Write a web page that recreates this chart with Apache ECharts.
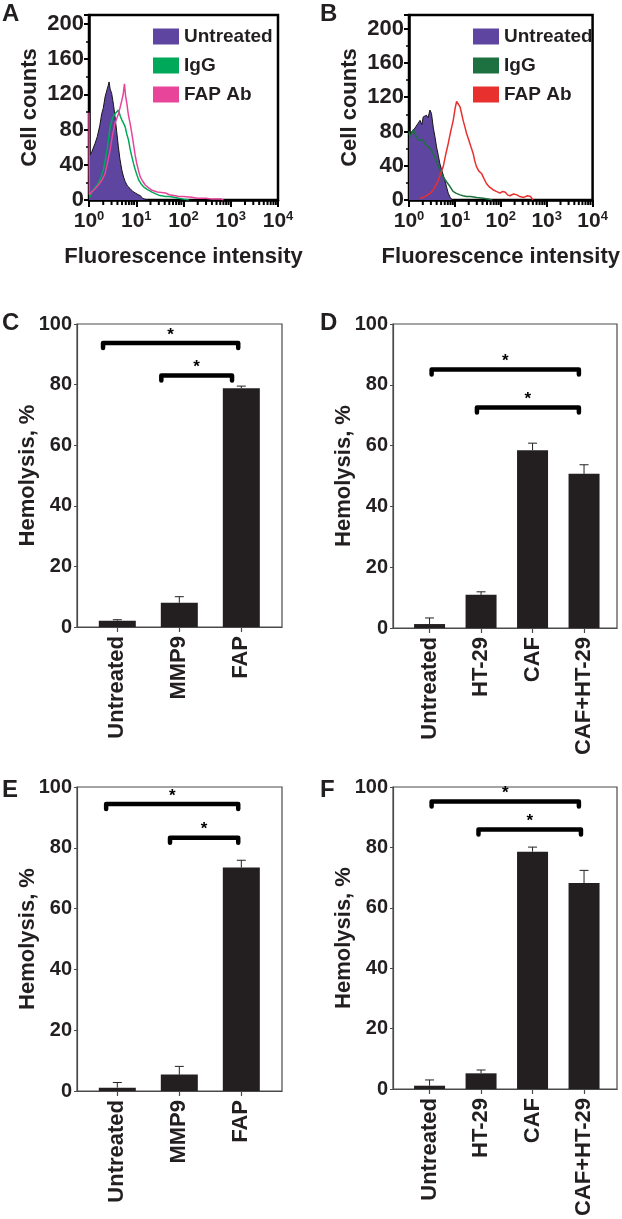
<!DOCTYPE html>
<html>
<head>
<meta charset="utf-8">
<script src="https://cdn.jsdelivr.net/npm/echarts@6/dist/echarts.min.js"></script>
<style>
html,body{margin:0;padding:0;background:#fff;}
#chart{width:622px;height:1219px;}
</style>
</head>
<body>
<div id="chart"></div>
<script>
// ---------- A / B : flow cytometry histograms, [intensity, cell count] ----------
const aUntreated = [[1,49],[1.05,47],[1.15,55],[1.34,64],[1.5,72],[1.7,85],[1.86,98],[2.0,104],[2.19,117],[2.4,125],[2.55,130],[2.66,134],[2.8,126],[3.02,121],[3.3,108],[3.55,95],[3.85,78],[4.17,61],[4.5,47],[4.95,34],[5.4,26],[5.83,21],[6.5,16],[7.41,13],[8.3,10],[9.55,8],[11,6],[12.2,5],[13.5,2],[15,1],[18,0]];
const aIgG = [[1.05,3],[1.14,9],[1.3,13],[1.58,19],[1.8,26],[2.02,34],[2.2,45],[2.42,57],[2.6,70],[2.8,83],[3.1,92],[3.55,98],[3.9,100],[4.21,102],[4.6,95],[4.95,91],[5.4,87],[5.83,83],[6.3,75],[6.87,68],[7.4,58],[8.09,49],[8.8,41],[9.55,34],[10.4,28],[11.2,23],[12.8,18],[14.3,15],[17,12],[21.5,9],[26,7],[31.6,5],[41.7,4],[50,4],[63,3],[79,2],[100,1],[130,0]];
const aFAP = [[1,99],[1.02,6],[1.14,9],[1.3,12],[1.58,17],[1.9,23],[2.19,30],[2.5,44],[2.8,57],[3.1,72],[3.55,87],[3.9,93],[4.21,98],[4.6,106],[4.95,113],[5.3,120],[5.62,132],[5.95,118],[6.31,110],[6.8,97],[7.41,87],[8.09,75],[8.71,64],[9.4,52],[10.2,42],[11.2,33],[12.2,26],[13.8,21],[15.5,17],[18,14],[21.5,11],[28,9],[41.7,8],[50,6],[63,5],[79,4],[100,4],[150,3],[200,2],[300,2],[398,1],[631,1],[700,0]];

const bUntreated = [[1,74],[1.05,74],[1.15,80],[1.24,78],[1.35,84],[1.47,86],[1.6,90],[1.74,93],[1.9,88],[2.04,97],[2.2,95],[2.4,99],[2.6,96],[2.86,105],[3.09,101],[3.39,84],[3.7,73],[3.98,62],[4.35,52],[4.68,43],[5.3,33],[6.03,23],[6.6,15],[7.16,8],[8.05,2],[9.12,0]];
const bIgG = [[1,80],[1.05,74],[1.15,78],[1.24,82],[1.35,77],[1.47,74],[1.6,70],[1.74,68],[2.04,70],[2.2,66],[2.4,66],[2.6,62],[2.86,64],[3.1,58],[3.39,54],[3.98,45],[4.68,35],[5.57,27],[6.61,21],[7.76,16],[9.12,10],[10.5,8],[12.9,6],[15,5],[17.8,4],[22,4],[30,3],[41.7,2],[56,1],[65,0]];
const bFAP = [[1.74,2],[2.0,3],[2.4,5],[2.9,8],[3.39,12],[3.9,18],[4.35,23],[4.9,31],[5.57,39],[6.3,53],[7.16,66],[8.1,80],[9.2,93],[10.1,107],[10.9,115],[11.7,113],[12.9,109],[14,101],[15.1,93],[16.4,86],[17.9,78],[19.5,72],[21.2,66],[23,60],[25.1,54],[27,46],[29.5,39],[33,34],[38,31],[43,25],[49,19],[57,15],[67.6,12],[80,10],[95.5,8],[110,10],[126,9],[140,6],[158,5],[190,7],[224,6],[260,4],[316,3],[380,5],[447,4],[501,0]];

const fluorTicks = [1, 10, 100, 1000, 10000];
const fluorTickExp = ['0', '1', '2', '3', '4'];

// ---------- C-F : hemolysis bars ----------
const catsMMP = ['Untreated', 'MMP9', 'FAP'];
const catsCAF = ['Untreated', 'HT-29', 'CAF', 'CAF+HT-29'];

const hemoC = [2.1, 8.0, 78.8];
const errC = [0.3, 2.0, 0.7];
const hemoD = [1.3, 10.9, 58.5, 50.7];
const errD = [2.0, 1.0, 2.3, 3.0];
const hemoE = [1.1, 5.4, 73.5];
const errE = [1.7, 2.7, 2.4];
const hemoF = [1.1, 5.2, 78.6, 68.2];
const errF = [1.9, 1.1, 1.5, 4.2];

// significance brackets: [from category, to category, height %]
const sigC = [[0.77, 2.95, 93.7], [1.71, 2.85, 83]];
const sigD = [[1.04, 3.9, 85], [1.92, 3.9, 72.5]];
const sigE = [[0.82, 2.95, 94.4], [1.85, 2.95, 83.3]];
const sigF = [[1.04, 3.9, 95.2], [1.95, 3.94, 85.9]];

const FONT = "'Liberation Sans', Arial, Helvetica, sans-serif";
const INK = '#231f20';
const FRAME = '#4a4a4a';
const purple = '#5d45a0';

const chart = echarts.init(document.getElementById('chart'));

// log minor ticks 2..9 per decade
const minorTickVals = [];
for (let d = 1; d < 10000; d *= 10) {
  for (let m = 2; m <= 9; m++) minorTickVals.push([m * d, 0]);
}

const boldText = (size) => ({fontFamily: FONT, fontWeight: 'bold', fontSize: size, color: INK});

function logAxis(gi) {
  return {
    type: 'log', logBase: 10, gridIndex: gi, min: 1, max: 10000,
    name: 'Fluorescence intensity', nameLocation: 'middle', nameGap: 46,
    nameTextStyle: boldText(22),
    axisLine: {lineStyle: {color: '#000', width: 2.5}},
    axisTick: {length: 7, lineStyle: {color: '#000', width: 2}},
    splitLine: {show: false},
    axisLabel: {
      margin: 10,
      formatter: v => {
        let i = fluorTicks.findIndex(t => Math.abs(Math.log10(t) - Math.log10(v)) < 0.01);
        return '{b|10}{s|' + fluorTickExp[i] + '}';
      },
      rich: {
        b: {fontFamily: FONT, fontWeight: 'bold', fontSize: 21, color: INK, verticalAlign: 'bottom'},
        s: {fontFamily: FONT, fontWeight: 'bold', fontSize: 13, color: INK, verticalAlign: 'bottom', padding: [0, 0, 9, 0]}
      }
    }
  };
}

function countAxis(gi, max) {
  return {
    type: 'value', gridIndex: gi, min: 0, max: max, interval: 40,
    name: 'Cell counts', nameLocation: 'middle', nameGap: 48, nameMoveOverlap: false,
    nameTextStyle: boldText(22),
    axisLine: {show: true, lineStyle: {color: '#000', width: 2.5}},
    axisTick: {show: true, length: 5, lineStyle: {color: '#000', width: 2}},
    minorTick: {show: true, splitNumber: 2, length: 3, lineStyle: {color: '#000', width: 1.5}},
    splitLine: {show: false},
    axisLabel: Object.assign({margin: 5, showMaxLabel: false}, boldText(22))
  };
}

function catAxis(gi, cats, min, max) {
  const pos = cats.map((c, i) => i + 1);
  return {
    type: 'value', gridIndex: gi, min: min, max: max,
    axisLine: {lineStyle: {color: FRAME, width: 1.2}},
    axisTick: {customValues: pos, length: 5, lineStyle: {color: FRAME, width: 1.2}},
    splitLine: {show: false},
    axisLabel: Object.assign({
      customValues: pos, rotate: 90, margin: 9,
      formatter: v => cats[Math.round(v) - 1]
    }, boldText(22))
  };
}

function hemoAxis(gi) {
  return {
    type: 'value', gridIndex: gi, min: 0, max: 100, interval: 20,
    name: 'Hemolysis, %', nameLocation: 'middle', nameGap: 38, nameMoveOverlap: false,
    nameTextStyle: boldText(22),
    axisLine: {show: true, lineStyle: {color: FRAME, width: 1.2}},
    axisTick: {show: true, length: 3, lineStyle: {color: FRAME, width: 1}},
    splitLine: {show: false},
    axisLabel: Object.assign({margin: 5}, boldText(20))
  };
}

function histLine(name, data, ai, color, filled) {
  const s = {
    type: 'line', name: name, data: data, xAxisIndex: ai, yAxisIndex: ai,
    showSymbol: false, silent: true, animation: false,
    lineStyle: {color: filled ? '#151515' : color, width: filled ? 1 : 1.5},
    itemStyle: {color: color}
  };
  if (filled) s.areaStyle = {color: color, opacity: 1};
  return s;
}

function minorTicks(ai) {
  return {
    type: 'custom', xAxisIndex: ai, yAxisIndex: ai, data: minorTickVals,
    encode: {x: 0, y: 1}, clip: false, silent: true, animation: false,
    renderItem: (params, api) => {
      const p = api.coord([api.value(0), 0]);
      return {type: 'line', shape: {x1: p[0], y1: p[1], x2: p[0], y2: p[1] + 5},
        style: {stroke: '#000', lineWidth: 2}};
    }
  };
}

function barSeries(ai, vals, width) {
  return {
    type: 'bar', xAxisIndex: ai, yAxisIndex: ai, barWidth: width,
    data: vals.map((v, i) => [i + 1, v]),
    itemStyle: {color: INK}, silent: true, animation: false
  };
}

function errSeries(ai, vals, errs) {
  return {
    type: 'custom', xAxisIndex: ai, yAxisIndex: ai, silent: true, animation: false,
    data: vals.map((v, i) => [i + 1, v, errs[i]]),
    encode: {x: 0, y: 1}, z: 3,
    renderItem: (params, api) => {
      const x = api.value(0), v = api.value(1), e = api.value(2);
      const a = api.coord([x, v]), b = api.coord([x, v + e]);
      return {type: 'group', children: [
        {type: 'line', shape: {x1: a[0], y1: a[1], x2: b[0], y2: b[1]}, style: {stroke: '#222', lineWidth: 1}},
        {type: 'line', shape: {x1: b[0] - 4.5, y1: b[1], x2: b[0] + 4.5, y2: b[1]}, style: {stroke: '#222', lineWidth: 1}}
      ]};
    }
  };
}

function sigSeries(ai, brackets) {
  return {
    type: 'custom', xAxisIndex: ai, yAxisIndex: ai, silent: true, animation: false,
    data: brackets, encode: {x: [0, 1], y: 2}, clip: false, z: 4,
    renderItem: (params, api) => {
      const a = api.coord([api.value(0), api.value(2)]);
      const b = api.coord([api.value(1), api.value(2)]);
      return {type: 'group', children: [
        {type: 'polyline',
          shape: {points: [[a[0], a[1] + 5], [a[0], a[1]], [b[0], b[1]], [b[0], b[1] + 5]]},
          style: {stroke: '#000', lineWidth: 4.5, fill: null, lineJoin: 'round', lineCap: 'round'}},
        {type: 'text', style: {text: '*', x: (a[0] + b[0]) / 2, y: a[1] - 8,
          align: 'center', verticalAlign: 'middle', fontFamily: FONT, fontWeight: 'bold',
          fontSize: 17, fill: '#000'}}
      ]};
    }
  };
}

const histFrame = {show: true, borderColor: '#000', borderWidth: 2.5, backgroundColor: 'transparent'};
const barFrame = {show: true, borderColor: FRAME, borderWidth: 1.2, backgroundColor: 'transparent'};

const legendBase = {
  orient: 'vertical', icon: 'rect', itemWidth: 26, itemHeight: 16, itemGap: 10,
  selectedMode: false, textStyle: boldText(19)
};

const letters = ['A', 'B', 'C', 'D', 'E', 'F'];
const letterPos = [[2, 2], [320, 2], [2, 311], [320, 311], [2, 778], [320, 778]];

const option = {
  backgroundColor: '#fff',
  animation: false,
  title: letters.map((t, i) => ({
    text: t, left: letterPos[i][0], top: letterPos[i][1], padding: 0,
    textStyle: boldText(24)
  })),
  grid: [
    Object.assign({left: 89, top: 15, width: 189, height: 185}, histFrame),
    Object.assign({left: 409, top: 15, width: 185, height: 185}, histFrame),
    Object.assign({left: 77, top: 324, width: 205, height: 303}, barFrame),
    Object.assign({left: 393, top: 324, width: 224, height: 304}, barFrame),
    Object.assign({left: 77, top: 787, width: 205, height: 304}, barFrame),
    Object.assign({left: 393, top: 787, width: 224, height: 304}, barFrame)
  ],
  xAxis: [
    logAxis(0), logAxis(1),
    catAxis(2, catsMMP, 0.35, 3.656),
    catAxis(3, catsCAF, 0.29, 4.64),
    catAxis(4, catsMMP, 0.35, 3.656),
    catAxis(5, catsCAF, 0.29, 4.64)
  ],
  yAxis: [
    countAxis(0, 210), countAxis(1, 216),
    hemoAxis(2), hemoAxis(3), hemoAxis(4), hemoAxis(5)
  ],
  legend: [
    Object.assign({left: 148, top: 22, data: [
      {name: 'Untreated', itemStyle: {color: purple}},
      {name: 'IgG', itemStyle: {color: '#00a859'}},
      {name: 'FAP Ab', itemStyle: {color: '#e8449a'}}
    ]}, legendBase),
    Object.assign({left: 468, top: 22, data: [
      {name: 'Untreated', itemStyle: {color: purple}},
      {name: 'IgG', itemStyle: {color: '#1d7040'}},
      {name: 'FAP Ab', itemStyle: {color: '#e8312f'}}
    ]}, legendBase)
  ],
  series: [
    histLine('Untreated', aUntreated, 0, purple, true),
    histLine('IgG', aIgG, 0, '#00a859', false),
    histLine('FAP Ab', aFAP, 0, '#e8449a', false),
    minorTicks(0),
    histLine('Untreated', bUntreated, 1, purple, true),
    histLine('IgG', bIgG, 1, '#1d7040', false),
    histLine('FAP Ab', bFAP, 1, '#e8312f', false),
    minorTicks(1),

    barSeries(2, hemoC, 37), errSeries(2, hemoC, errC), sigSeries(2, sigC),
    barSeries(3, hemoD, 31), errSeries(3, hemoD, errD), sigSeries(3, sigD),
    barSeries(4, hemoE, 37), errSeries(4, hemoE, errE), sigSeries(4, sigE),
    barSeries(5, hemoF, 31), errSeries(5, hemoF, errF), sigSeries(5, sigF)
  ]
};

chart.setOption(option);
</script>
</body>
</html>
